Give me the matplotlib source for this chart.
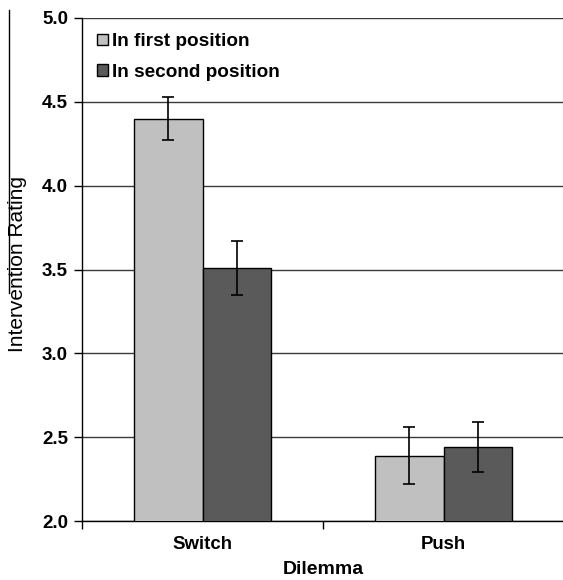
import numpy as np
import matplotlib
matplotlib.use("Agg")
import matplotlib.pyplot as plt
from matplotlib.lines import Line2D

plt.rcParams['font.family'] = ['Liberation Sans', 'DejaVu Sans']

dilemmas = ["Switch", "Push"]
series = ["In first position", "In second position"]
first = [4.40, 2.39]
second = [3.51, 2.44]
first_err = [0.13, 0.17]
second_err = [0.16, 0.15]
colors = ["#c0c0c0", "#5a5a5a"]

fig = plt.figure(figsize=(5.63, 5.8), dpi=100)
ax = fig.add_axes([82/563, 59/580, 482/563, 503/580])

x = np.arange(len(dilemmas))
w = 0.283
ax.bar(x - w/2, first, w, yerr=first_err, color=colors[0], edgecolor="black",
       linewidth=1, label=series[0], zorder=3,
       error_kw=dict(ecolor="black", elinewidth=1.2, capsize=4, capthick=1.2))
ax.bar(x + w/2, second, w, yerr=second_err, color=colors[1], edgecolor="black",
       linewidth=1, label=series[1], zorder=3,
       error_kw=dict(ecolor="black", elinewidth=1.2, capsize=4, capthick=1.2))

ax.set_ylim(2.0, 5.0)
ax.set_xlim(-0.5, 1.5)
ax.set_yticks(np.arange(2.0, 5.01, 0.5))
ax.set_yticklabels([f"{v:.1f}" for v in np.arange(2.0, 5.01, 0.5)],
                   fontsize=13.5, fontweight="bold")
ax.set_xticks(x)
ax.set_xticklabels(dilemmas, fontsize=13.4, fontweight="bold")
ax.set_xticks([-0.5, 0.5, 1.5], minor=True)
ax.tick_params(axis="x", which="major", length=0, pad=11)
ax.tick_params(axis="x", which="minor", length=6, width=1, direction="out")
ax.tick_params(axis="y", length=6, width=1, direction="out", pad=4)

ax.yaxis.grid(True, color="#3a3a3a", linewidth=1, zorder=0)
ax.set_axisbelow(True)
for s in ["top", "right"]:
    ax.spines[s].set_visible(False)
ax.spines["left"].set_linewidth(1)
ax.spines["bottom"].set_linewidth(1)

ax.set_xlabel("Dilemma", fontsize=14, fontweight="bold")
ax.xaxis.set_label_coords(241/482, -0.079)
ax.set_ylabel("Intervention Rating", fontsize=15)
ax.yaxis.set_label_coords(-55/482, 0.51)

leg = ax.legend(loc="upper left", bbox_to_anchor=(0.0, 1.0), frameon=False,
                prop=dict(size=13.7, weight="bold"), handlelength=0.55,
                handleheight=0.55, handletextpad=0.25, labelspacing=0.7,
                borderaxespad=0.4)

fig.add_artist(Line2D([9/563, 9/563], [1 - 10/580, 1 - 293/580],
                      color="black", linewidth=1))

fig.savefig("out.png", dpi=100)
